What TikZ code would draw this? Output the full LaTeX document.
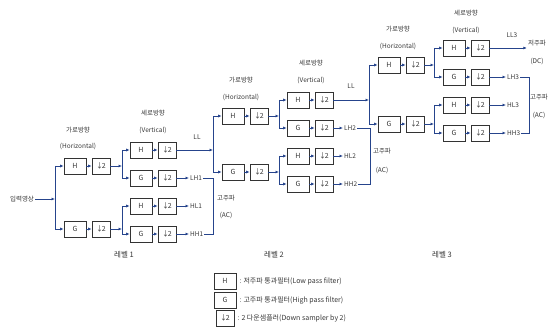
\documentclass[tikz,border=0pt]{standalone}
\usepackage{fontspec}
\setmainfont{Noto Sans CJK KR}
\usetikzlibrary{arrows.meta}
\definecolor{lnc}{RGB}{38,68,140}
\definecolor{txc}{RGB}{55,55,55}
\newcommand\dn{↓\kern-1.3pt 2}
\newcommand\fpair[4]{\node[fb] (#1) at (#3,#4) {#2}; \node[db] (#1d) at ({#3+26},#4) {\dn}; \draw[arr] (#1) -- (#1d);}
\tikzset{
  fb/.style={draw=black!80, fill=white, line width=0.6pt, minimum width=22pt, minimum height=16pt, inner sep=0pt, font=\fontsize{7}{8}\selectfont, text=txc},
  db/.style={fb, minimum width=18pt},
  txt/.style={font=\fontsize{6.5}{7}\selectfont, text=txc, inner sep=1pt},
  lvl/.style={txt, font=\fontsize{7.5}{8}\selectfont},
  lgt/.style={txt, font=\fontsize{7}{8}\selectfont, anchor=west},
  ln/.style={draw=lnc, line width=0.8pt},
  arr/.style={ln, -{Latex[length=3.5pt,width=3pt]}},
}
\begin{document}
\begin{tikzpicture}[x=1pt,y=-1pt]
\useasboundingbox (0,0) rectangle (548,336);
% ---------- level 1 ----------
\node[txt] (in) at (22,199) {입력영상};
\coordinate (s0) at (55,199);
\coordinate (s0t) at (55,166);
\coordinate (s0b) at (55,229);
\fpair{h1}{H}{75}{166}
\fpair{g1}{G}{75}{229}
\draw[arr] (in) -- (s0);
\draw[ln] (s0t) -- (s0b);
\draw[arr] (s0t) -- (h1);
\draw[arr] (s0b) -- (g1);
\node[txt] at (78,130) {가로방향};
\node[txt] at (78,146) {(Horizontal)};
% split
\coordinate (s1a) at (122,166); \coordinate (s1at) at (122,150); \coordinate (s1ab) at (122,178);
\coordinate (s1b) at (122,229); \coordinate (s1bt) at (122,206); \coordinate (s1bb) at (122,234);
\draw[arr] (h1d) -- (s1a);
\draw[arr] (g1d) -- (s1b);
\draw[ln] (s1at) -- (s1ab);
\draw[ln] (s1bt) -- (s1bb);
\fpair{v1a}{H}{141}{150}
\fpair{v1b}{G}{141}{178}
\fpair{v1c}{H}{141}{206}
\fpair{v1d}{G}{141}{234}
\draw[arr] (s1at) -- (v1a);
\draw[arr] (s1ab) -- (v1b);
\draw[arr] (s1bt) -- (v1c);
\draw[arr] (s1bb) -- (v1d);
\node[txt] at (153,113) {세로방향};
\node[txt] at (153,130) {(Vertical)};
% outputs level 1
\coordinate (j2) at (213,150);
\draw[arr] (v1ad) -- (j2);
\node[txt] at (197,137) {LL};
\node[txt, anchor=west] (lh1) at (189,178) {LH1};
\node[txt, anchor=west] (hl1) at (189,206) {HL1};
\node[txt, anchor=west] (hh1) at (189,234) {HH1};
\draw[arr] (v1bd) -- (lh1);
\draw[arr] (v1cd) -- (hl1);
\draw[arr] (v1dd) -- (hh1);
\coordinate (b1t) at (213,178); \coordinate (b1b) at (213,234);
\draw[ln] (lh1) -- (b1t) -- (b1b) -- (hh1);
\node[txt] at (226,198) {고주파};
\node[txt] at (226,215) {(AC)};
\node[lvl] at (124,255) {레벨 1};
% ---------- level 2 ----------
\coordinate (j2t) at (213,116); \coordinate (j2b) at (213,172);
\draw[ln] (j2t) -- (j2b);
\fpair{h2}{H}{233}{116}
\fpair{g2}{G}{233}{172}
\draw[arr] (j2t) -- (h2);
\draw[arr] (j2b) -- (g2);
\node[txt] at (241,80) {가로방향};
\node[txt] at (241,97) {(Horizontal)};
\coordinate (s2a) at (279,116); \coordinate (s2at) at (279,100); \coordinate (s2ab) at (279,128);
\coordinate (s2b) at (279,172); \coordinate (s2bt) at (279,156); \coordinate (s2bb) at (279,184);
\draw[arr] (h2d) -- (s2a);
\draw[arr] (g2d) -- (s2b);
\draw[ln] (s2at) -- (s2ab);
\draw[ln] (s2bt) -- (s2bb);
\fpair{v2a}{H}{298}{100}
\fpair{v2b}{G}{298}{128}
\fpair{v2c}{H}{298}{156}
\fpair{v2d}{G}{298}{184}
\draw[arr] (s2at) -- (v2a);
\draw[arr] (s2ab) -- (v2b);
\draw[arr] (s2bt) -- (v2c);
\draw[arr] (s2bb) -- (v2d);
\node[txt] at (311,63) {세로방향};
\node[txt] at (311,80) {(Vertical)};
\coordinate (j3) at (369,100);
\draw[arr] (v2ad) -- (j3);
\node[txt] at (351,86) {LL};
\node[txt, anchor=west] (lh2) at (343,128) {LH2};
\node[txt, anchor=west] (hl2) at (343,156) {HL2};
\node[txt, anchor=west] (hh2) at (343,184) {HH2};
\draw[arr] (v2bd) -- (lh2);
\draw[arr] (v2cd) -- (hl2);
\draw[arr] (v2dd) -- (hh2);
\coordinate (b2t) at (370,128); \coordinate (b2b) at (370,184);
\draw[ln] (lh2) -- (b2t) -- (b2b) -- (hh2);
\node[txt] at (382,151) {고주파};
\node[txt] at (382,170) {(AC)};
\node[lvl] at (274,255) {레벨 2};
% ---------- level 3 ----------
\coordinate (j3t) at (369,65); \coordinate (j3b) at (369,124);
\draw[ln] (j3t) -- (j3b);
\fpair{h3}{H}{389}{65}
\fpair{g3}{G}{389}{124}
\draw[arr] (j3t) -- (h3);
\draw[arr] (j3b) -- (g3);
\node[txt] at (398,29) {가로방향};
\node[txt] at (398,46) {(Horizontal)};
\coordinate (s3a) at (434,65); \coordinate (s3at) at (434,48); \coordinate (s3ab) at (434,77);
\coordinate (s3b) at (434,124); \coordinate (s3bt) at (434,105); \coordinate (s3bb) at (434,133);
\draw[arr] (h3d) -- (s3a);
\draw[arr] (g3d) -- (s3b);
\draw[ln] (s3at) -- (s3ab);
\draw[ln] (s3bt) -- (s3bb);
\fpair{v3a}{H}{454}{48}
\fpair{v3b}{G}{454}{77}
\fpair{v3c}{H}{454}{105}
\fpair{v3d}{G}{454}{133}
\draw[arr] (s3at) -- (v3a);
\draw[arr] (s3ab) -- (v3b);
\draw[arr] (s3bt) -- (v3c);
\draw[arr] (s3bb) -- (v3d);
\node[txt] at (466,13) {세로방향};
\node[txt] at (466,30) {(Vertical)};
\node[txt] (dc1) at (537,43) {저주파};
\node[txt] (dc2) at (537,61) {(DC)};
\draw[arr] (v3ad) -- (dc1.west |- v3ad);
\node[txt] at (512,35) {LL3};
\node[txt, anchor=west] (lh3) at (506,77) {LH3};
\node[txt, anchor=west] (hl3) at (506,105) {HL3};
\node[txt, anchor=west] (hh3) at (506,133) {HH3};
\draw[arr] (v3bd) -- (lh3);
\draw[arr] (v3cd) -- (hl3);
\draw[arr] (v3dd) -- (hh3);
\coordinate (b3t) at (529,77); \coordinate (b3b) at (529,133);
\draw[ln] (lh3) -- (b3t) -- (b3b) -- (hh3);
\node[txt] at (539,97) {고주파};
\node[txt] at (539,115) {(AC)};
\node[lvl] at (442,255) {레벨 3};
% ---------- legend ----------
\node[fb] (lgh) at (225,281) {H};
\node[fb] (lgg) at (225,300) {G};
\node[db] (lgd) at (225,318) {\dn};
\node[lgt] at ([xshift=2pt]lgh.east) {: 저주파 통과필터(Low pass filter)};
\node[lgt] at ([xshift=2pt]lgg.east) {: 고주파 통과필터(High pass filter)};
\node[lgt] at ([xshift=2pt]lgd.east) {: 2 다운샘플러(Down sampler by 2)};
\end{tikzpicture}
\end{document}
